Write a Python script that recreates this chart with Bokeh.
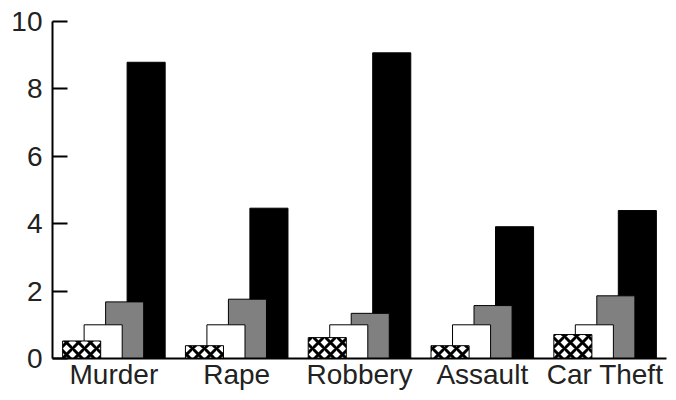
from bokeh.plotting import figure
from bokeh.models import ColumnDataSource, FactorRange
from bokeh.transform import dodge
from bokeh.embed import file_html
from bokeh.resources import INLINE

categories = ["Murder", "Rape", "Robbery", "Assault", "Car Theft"]
series_a = [0.52, 0.38, 0.62, 0.38, 0.71]   # hatched
series_b = [1.0, 1.0, 1.0, 1.0, 1.0]        # white
series_c = [1.68, 1.76, 1.34, 1.57, 1.86]   # gray
series_d = [8.79, 4.46, 9.07, 3.91, 4.39]   # black
y_ticks = [0, 2, 4, 6, 8, 10]

src = ColumnDataSource(dict(cat=categories, a=series_a, b=series_b, c=series_c, d=series_d))

p = figure(x_range=FactorRange(*categories, range_padding=0), y_range=(0, 10),
           width=668, height=392, output_backend="svg", toolbar_location=None,
           min_border_left=52, min_border_top=21, min_border_right=2, min_border_bottom=0)

bw = 0.31
p.vbar(x=dodge("cat", 0.2625, range=p.x_range), top="d", width=bw, source=src,
       fill_color="black", line_color="black", line_width=1)
p.vbar(x=dodge("cat", 0.0875, range=p.x_range), top="c", width=bw, source=src,
       fill_color="#808080", line_color="black", line_width=1)
p.vbar(x=dodge("cat", -0.0875, range=p.x_range), top="b", width=bw, source=src,
       fill_color="white", line_color="black", line_width=1)
p.vbar(x=dodge("cat", -0.2625, range=p.x_range), top="a", width=bw, source=src,
       fill_color="white", line_color="black", line_width=1,
       hatch_pattern="diagonal_cross", hatch_color="black", hatch_scale=12, hatch_weight=3)

p.outline_line_color = None
p.grid.grid_line_color = None
p.background_fill_color = "white"
p.border_fill_color = "white"

p.yaxis.ticker = y_ticks
p.yaxis.major_tick_in = 15
p.yaxis.major_tick_out = 0
p.yaxis.minor_tick_line_color = None
p.yaxis.major_label_standoff = 10
p.yaxis.axis_line_width = 2
p.yaxis.major_tick_line_width = 2

p.xaxis.major_tick_line_color = None
p.xaxis.major_tick_in = 0
p.xaxis.major_tick_out = 0
p.xaxis.minor_tick_line_color = None
p.xaxis.major_label_standoff = 0
p.xaxis.axis_line_width = 2

for ax in (p.xaxis, p.yaxis):
    ax.major_label_text_font = "Liberation Sans"
    ax.major_label_text_font_size = "28px"
    ax.major_label_text_color = "#222222"
    ax.axis_line_color = "black"

open("out.html", "w").write(file_html(p, INLINE))
